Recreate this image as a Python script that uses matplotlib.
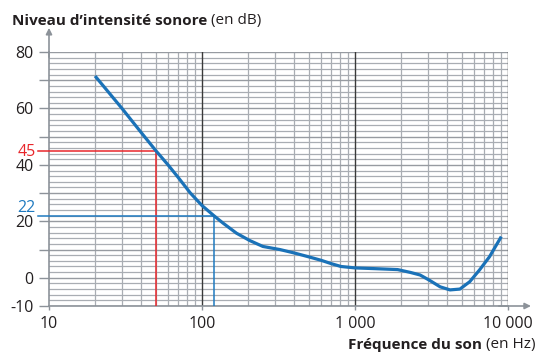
import numpy as np
import matplotlib
matplotlib.use("Agg")
import matplotlib.pyplot as plt
from matplotlib.ticker import MultipleLocator, LogLocator, NullFormatter

# threshold of hearing curve
freq = [20, 30, 40, 50, 60, 70, 84, 100, 119, 137, 168, 205, 250, 323, 400,
        500, 600, 700, 810, 1000, 1400, 1900, 2300, 2660, 3050, 3600, 4180,
        4850, 5620, 6520, 7580, 9040]
level = [71.5, 60, 51.5, 45, 40, 35.5, 30.0, 25.6, 22.1, 19.4, 15.8, 13.2,
         11.1, 10.0, 8.8, 7.4, 6.2, 5.0, 4.0, 3.5, 3.2, 2.9, 1.9, 1.0, -0.8,
         -3.2, -4.3, -4.0, -1.4, 2.8, 7.5, 14.6]

y_ticks = [80, 60, 40, 20, 0, -10]
x_ticks = [10, 100, 1000, 10000]
x_labels = ["10", "100", "1 000", "10 000"]

red_point = (50, 45)
blue_point = (120, 22)

plt.rcParams['font.family'] = ['Open Sans', 'DejaVu Sans']

C_TEXT = '#231f20'
C_AXIS = '#8c9299'
C_GRID = '#a9adb3'
C_DEC = '#3a3a3a'
C_CURVE = '#1a72b8'
C_RED = '#e8262b'
C_BLUE = '#1f7ac0'
FS = 11.5

fig = plt.figure(figsize=(5.37, 3.53), dpi=100)
ax = fig.add_axes([49 / 537, 1 - 306 / 353, 459 / 537, 254 / 353])

ax.set_xscale('log')
ax.set_xlim(10, 10000)
ax.set_ylim(-10, 80)

# grid
ax.xaxis.set_minor_locator(LogLocator(base=10, subs=np.arange(2, 10)))
ax.xaxis.set_minor_formatter(NullFormatter())
ax.yaxis.set_major_locator(MultipleLocator(10))
ax.yaxis.set_minor_locator(MultipleLocator(2))
ax.xaxis.grid(True, which='minor', color=C_GRID, lw=0.9)
ax.yaxis.grid(True, which='minor', color=C_GRID, lw=0.9)
ax.yaxis.grid(True, which='major', color='#979ba1', lw=1.0)
ax.set_axisbelow(True)
for xv in x_ticks[1:]:
    ax.axvline(xv, color=C_DEC, lw=1.0, zorder=1.5)

ax.set_xticks(x_ticks)
ax.set_xticklabels(x_labels)
ax.set_yticks(range(-10, 81, 10))
ax.set_yticklabels([str(v) if v in y_ticks else '' for v in range(-10, 81, 10)])
ax.set_ylim(-10, 80)
ax.tick_params(axis='both', which='minor', length=0)
ax.tick_params(axis='y', which='major', length=7, width=1, color=C_AXIS,
               labelsize=FS, labelcolor=C_TEXT, pad=4)
ax.tick_params(axis='x', which='major', length=3, width=1, color=C_AXIS,
               labelsize=FS, labelcolor=C_TEXT, pad=4)

for s in ['top', 'right']:
    ax.spines[s].set_visible(False)
for s in ['left', 'bottom']:
    ax.spines[s].set_color(C_AXIS)
    ax.spines[s].set_linewidth(1.2)

# axis arrows
ax.annotate('', xy=(0, 1.095), xytext=(0, 0.98), xycoords='axes fraction',
            arrowprops=dict(arrowstyle='-|>', color=C_AXIS, lw=1.2,
                            mutation_scale=9, shrinkA=0, shrinkB=0))
ax.annotate('', xy=(1.05, 0), xytext=(0.98, 0), xycoords='axes fraction',
            arrowprops=dict(arrowstyle='-|>', color=C_AXIS, lw=1.2,
                            mutation_scale=9, shrinkA=0, shrinkB=0))

# reading lines
x0 = 10 ** 0.93
ax.plot([x0, red_point[0]], [red_point[1], red_point[1]], color=C_RED, lw=1.1,
        clip_on=False, zorder=3)
ax.plot([red_point[0], red_point[0]], [-10, red_point[1]], color=C_RED, lw=1.1, zorder=3)
ax.plot([x0, blue_point[0]], [blue_point[1], blue_point[1]], color=C_BLUE, lw=1.1,
        clip_on=False, zorder=3)
ax.plot([blue_point[0], blue_point[0]], [-10, blue_point[1]], color=C_BLUE, lw=1.1, zorder=3)

ax.text(10 ** 0.915, red_point[1] + 0.3, str(red_point[1]), color=C_RED, fontsize=FS,
        ha='right', va='center_baseline')
ax.text(10 ** 0.915, blue_point[1] + 3.3, str(blue_point[1]), color=C_BLUE, fontsize=FS,
        ha='right', va='center_baseline')

ax.plot(freq, level, color=C_CURVE, lw=2.3, solid_joinstyle='round',
        solid_capstyle='butt', zorder=5)

# titles
t1 = fig.text(12 / 537, 1 - 25 / 353, "Niveau d’intensité sonore", fontsize=11,
              fontweight='bold', color=C_TEXT, va='baseline')
ax.annotate(" (en dB)", xy=(1, 0), xycoords=t1, va='bottom', fontsize=11,
            color=C_TEXT)
t2 = fig.text(536 / 537, 5 / 353, "(en Hz)", fontsize=11, color=C_TEXT,
              ha='right', va='baseline')
ax.annotate("Fréquence du son ", xy=(0, 0), xycoords=t2, va='bottom', ha='right',
            fontsize=11, fontweight='bold', color=C_TEXT)

fig.savefig('out.png', dpi=100)
